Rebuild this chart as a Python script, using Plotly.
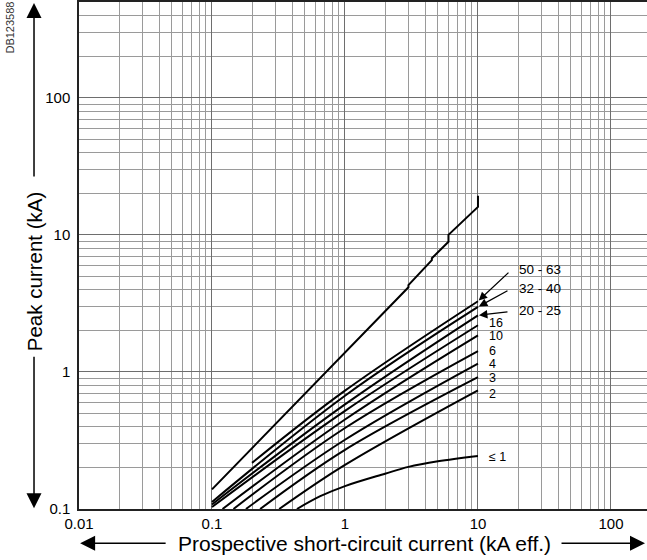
import math
import plotly.graph_objects as go

# ---- data ----
x_tick_vals = [0.01, 0.1, 1, 10, 100]
x_tick_text = ["0.01", "0.1", "1", "10", "100"]
y_tick_vals = [0.1, 1, 10, 100]
y_tick_text = ["0.1", "1", "10", "100"]

# unlimited peak current (with steps)
peak_x = [0.1, 3, 3, 4.5, 4.5, 6, 6, 10, 10]
peak_y = [0.139, 4.15, 4.3, 6.55, 6.75, 8.9, 10.0, 16.0, 19.3]

curve_labels = ["50 - 63", "32 - 40", "20 - 25", "16", "10", "6", "4", "3", "2", "≤ 1"]
curve_x = {
    "50 - 63": [0.2, 1, 10],
    "32 - 40": [0.1, 1, 10],
    "20 - 25": [0.1, 1, 10],
    "16": [0.1, 1, 10],
    "10": [0.12, 1, 10],
    "6": [0.145, 1, 10],
    "4": [0.18, 1, 10],
    "3": [0.23, 1, 10],
    "2": [0.32, 1, 10],
    "≤ 1": [0.435, 0.652, 1, 2, 3, 5, 10],
}
curve_y = {
    "50 - 63": [0.217, 0.73, 3.28],
    "32 - 40": [0.1125, 0.67, 2.98],
    "20 - 25": [0.108, 0.58, 2.59],
    "16": [0.1034, 0.52, 2.19],
    "10": [0.1, 0.45, 1.85],
    "6": [0.1, 0.39, 1.42],
    "4": [0.1, 0.32, 1.15],
    "3": [0.1, 0.27, 0.915],
    "2": [0.1, 0.21, 0.735],
    "≤ 1": [0.1, 0.124, 0.147, 0.181, 0.203, 0.223, 0.244],
}

FONT = "Arial, Liberation Sans, sans-serif"

fig = go.Figure()
fig.add_trace(go.Scatter(x=peak_x, y=peak_y, mode="lines",
                         line=dict(color="black", width=2), showlegend=False))
for lab in curve_labels:
    fig.add_trace(go.Scatter(x=curve_x[lab], y=curve_y[lab], mode="lines",
                             line=dict(color="black", width=2, shape="spline", smoothing=1.0),
                             showlegend=False))

annotations = []
# arrowed labels
arrow_cfg = {"50 - 63": (32, -30, 39, 31.5),
             "32 - 40": (31, -17, 39, 18.5),
             "20 - 25": (31, -3.5, 39, 4.5)}
for lab, (ax, ay, xs, ys) in arrow_cfg.items():
    xe, ye = curve_x[lab][-1], curve_y[lab][-1]
    annotations.append(dict(x=math.log10(xe), y=math.log10(ye), xref="x", yref="y",
                            text="", showarrow=True, ax=ax, ay=ay, axref="pixel", ayref="pixel",
                            arrowhead=2, arrowsize=1.3, arrowwidth=1.3, arrowcolor="black",
                            standoff=1))
    annotations.append(dict(x=math.log10(xe), y=math.log10(ye), xref="x", yref="y",
                            text=lab, showarrow=False, xanchor="left", yanchor="middle",
                            xshift=xs, yshift=ys, font=dict(size=13.5, color="black", family=FONT)))
plain_shift = {"16": 2.3, "10": -1, "6": 0, "4": -0.2, "3": -0.8, "2": -4, "≤ 1": -1.5}
for lab, ys in plain_shift.items():
    xe, ye = curve_x[lab][-1], curve_y[lab][-1]
    annotations.append(dict(x=math.log10(xe), y=math.log10(ye), xref="x", yref="y",
                            text=lab, showarrow=False, xanchor="left", yanchor="middle",
                            xshift=9, yshift=ys, font=dict(size=12.5, color="black", family=FONT)))

# axis titles with arrows
annotations += [
    dict(x=0.5018, y=-0.0677, xref="paper", yref="paper",
         text="Prospective short-circuit current (kA eff.)", showarrow=False,
         font=dict(size=21, color="black", family=FONT), xanchor="center", yanchor="middle"),
    dict(x=0.002, y=-0.0677, xref="paper", yref="paper", text="", showarrow=True,
         ax=87, ay=0, arrowhead=2, arrowsize=2, arrowwidth=1.5, arrowcolor="black"),
    dict(x=0.9965, y=-0.0677, xref="paper", yref="paper", text="", showarrow=True,
         ax=-85, ay=0, arrowhead=2, arrowsize=2, arrowwidth=1.5, arrowcolor="black"),
    dict(x=-0.0792, y=0.469, xref="paper", yref="paper",
         text="Peak current (kA)", showarrow=False, textangle=-90,
         font=dict(size=20.5, color="black", family=FONT), xanchor="center", yanchor="middle"),
    dict(x=-0.0792, y=0.998, xref="paper", yref="paper", text="", showarrow=True,
         ax=0, ay=175, arrowhead=2, arrowsize=2, arrowwidth=1.5, arrowcolor="black"),
    dict(x=-0.0792, y=0.0014, xref="paper", yref="paper", text="", showarrow=True,
         ax=0, ay=-153, arrowhead=2, arrowsize=2, arrowwidth=1.5, arrowcolor="black"),
    dict(x=-0.1232, y=0.9497, xref="paper", yref="paper",
         text="DB123588", showarrow=False, textangle=-90,
         font=dict(size=11, color="#333", family=FONT), xanchor="center", yanchor="middle"),
]

fig.update_xaxes(type="log", range=[-2, 2.271], tickmode="array",
                 tickvals=x_tick_vals, ticktext=x_tick_text,
                 showgrid=True, gridcolor="#6e6e6e", gridwidth=1,
                 minor=dict(dtick="D1", showgrid=True, gridcolor="#9a9a9a", gridwidth=1, ticks=""),
                 showline=True, linecolor="#222", linewidth=1.5, mirror=True,
                 ticks="", zeroline=False,
                 tickfont=dict(size=15, color="black", family=FONT))
fig.update_yaxes(type="log", range=[-1, 2.699], tickmode="array",
                 tickvals=y_tick_vals, ticktext=y_tick_text,
                 showgrid=True, gridcolor="#6e6e6e", gridwidth=1,
                 minor=dict(dtick="D1", showgrid=True, gridcolor="#9a9a9a", gridwidth=1, ticks=""),
                 showline=True, linecolor="#222", linewidth=1.5,
                 ticks="", zeroline=False, ticklabelstandoff=4,
                 tickfont=dict(size=15, color="black", family=FONT))

fig.update_layout(width=647, height=560, margin=dict(l=79, r=0, t=2, b=51),
                  paper_bgcolor="white", plot_bgcolor="white",
                  annotations=annotations, showlegend=False,
                  font=dict(family=FONT, color="black"))

fig.write_html("out.html", config={"displayModeBar": False},
               post_script="document.body.style.margin='0px';document.body.style.overflow='hidden';")
